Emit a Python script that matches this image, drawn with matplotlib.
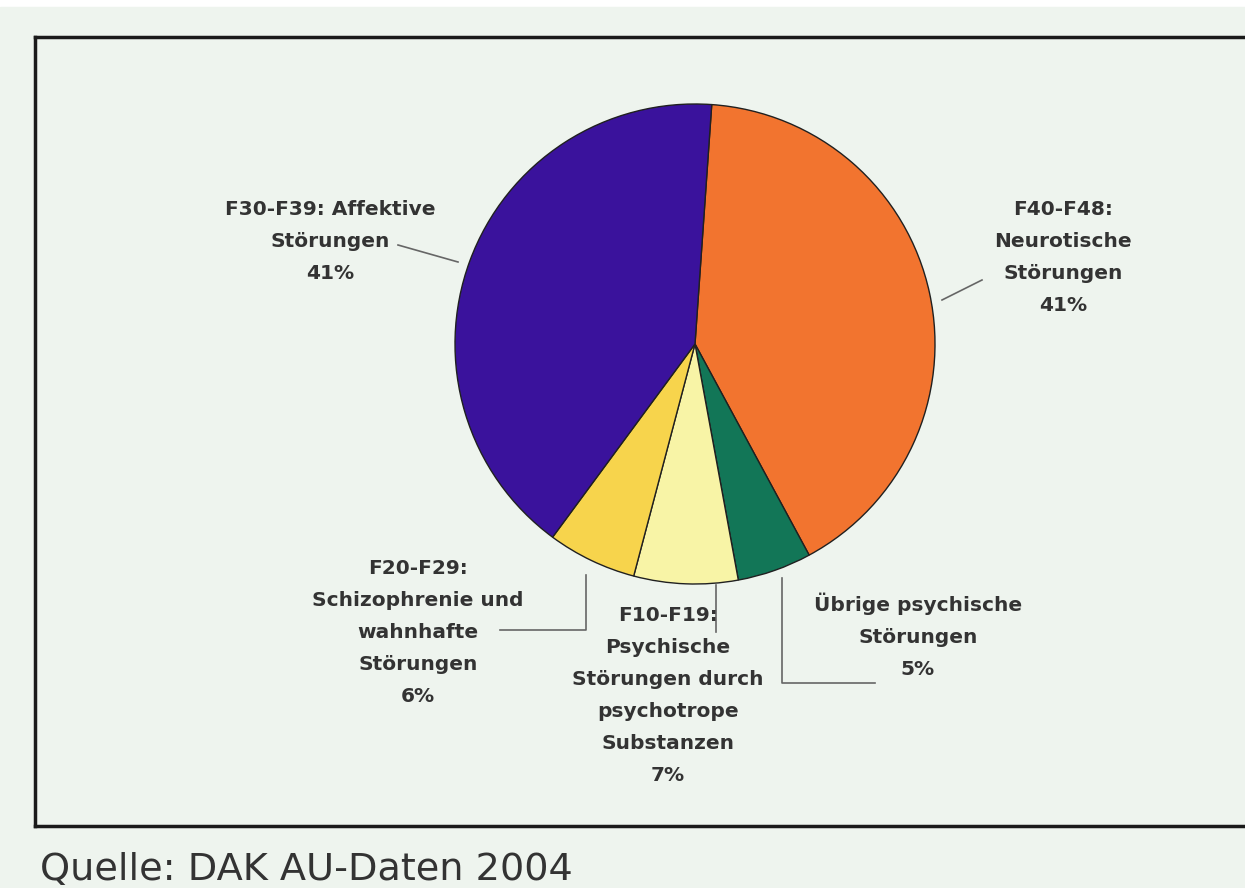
import matplotlib.pyplot as plt

# Anteile psychischer Erkrankungen (AU-Tage), im Uhrzeigersinn ab oben
labels = ['F40-F48:\nNeurotische\nStörungen\n41%',
          'Übrige psychische\nStörungen\n5%',
          'F10-F19:\nPsychische\nStörungen durch\npsychotrope\nSubstanzen\n7%',
          'F20-F29:\nSchizophrenie und\nwahnhafte\nStörungen\n6%',
          'F30-F39: Affektive\nStörungen\n41%']
values = [41, 5, 7, 6, 41]
colors = ['#f2742f', '#127657', '#f8f4a6', '#f7d44c', '#3a129c']

W, H = 1245, 888
bg = '#eef4ee'

fig = plt.figure(figsize=(W / 100, H / 100), dpi=100)
fig.patch.set_facecolor('white')

# Hintergrund- und Beschriftungsachse in Pixelkoordinaten
ax0 = fig.add_axes([0, 0, 1, 1])
ax0.set_xlim(0, W)
ax0.set_ylim(H, 0)
ax0.axis('off')
ax0.add_patch(plt.Rectangle((0, 7), W, H - 7, color=bg, zorder=0))

# Rahmen
ax0.plot([35, W], [37, 37], color='#1a1a1a', lw=2.5)
ax0.plot([35, 35], [37, 826], color='#1a1a1a', lw=2.5)
ax0.plot([35, W], [826, 826], color='#1a1a1a', lw=2.5)

# Kreisdiagramm
cx, cy, r = 695, 344, 240
ax = fig.add_axes([(cx - r) / W, (H - cy - r) / H, 2 * r / W, 2 * r / H])
ax.pie(values, colors=colors, startangle=86, counterclock=False,
       wedgeprops=dict(edgecolor='#202020', linewidth=1))
ax.set_xlim(-1, 1)
ax.set_ylim(-1, 1)
ax.axis('off')

font = dict(family='DejaVu Sans', weight='bold', size=14.5,
            color='#333333', ha='center', va='top', linespacing=1.86)
pos = [(1063, 200), (918, 593), (668, 606), (418, 559), (330, 200)]
for (x, y), lab in zip(pos, labels):
    ax0.text(x, y, lab, **font)

# Hinweislinien
lc = dict(color='#666666', lw=1.2)
ax0.plot([398, 458], [245, 262], **lc)
ax0.plot([942, 982], [300, 280], **lc)
ax0.plot([586, 586, 500], [575, 630, 630], **lc)
ax0.plot([716, 716], [585, 632], **lc)
ax0.plot([782, 782, 875], [578, 683, 683], **lc)

ax0.text(40, 870, 'Quelle: DAK AU-Daten 2004', family='DejaVu Sans',
         size=27.5, color='#333333', ha='left', va='center')

fig.savefig('out.png', dpi=100, facecolor=fig.get_facecolor())
